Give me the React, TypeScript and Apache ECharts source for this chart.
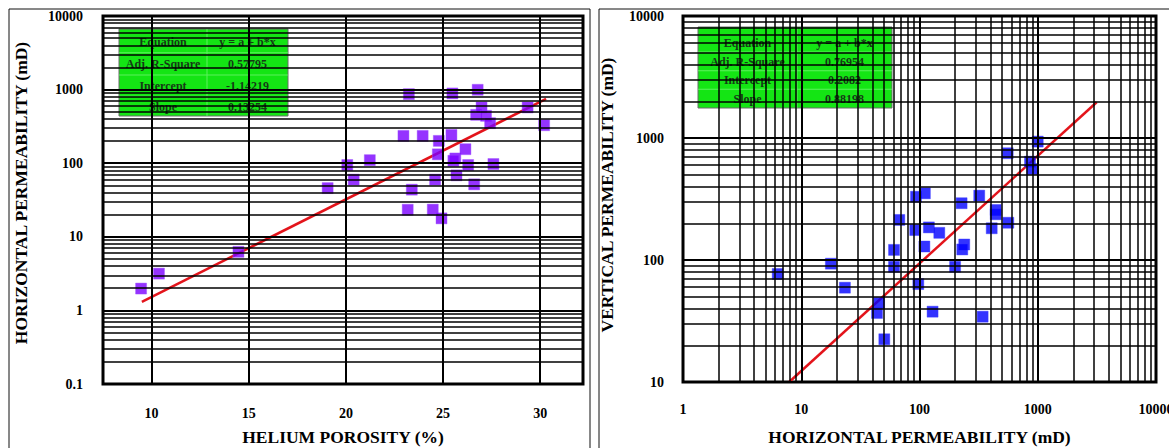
import React, { useEffect, useRef } from "react";
import * as echarts from "echarts";

// ---------- Data ----------
// Left chart: Helium porosity (%) vs horizontal permeability (mD)
const porosity = [9.46, 10.38, 14.47, 19.06, 20.07, 20.4, 21.23, 22.96, 23.24, 23.18, 23.39, 23.95, 24.47, 24.59, 24.73, 24.78, 24.92, 25.43, 25.48, 25.63, 25.53, 25.69, 26.15, 26.29, 26.6, 26.7, 26.78, 26.98, 27.21, 27.42, 27.59, 29.35, 30.2];
const horizPermA = [1.98, 3.16, 6.25, 45.9, 94.5, 59.8, 110, 235, 868, 23.3, 43.7, 235, 23.4, 59.8, 132, 201, 17.8, 242, 887, 116, 108, 68.4, 155, 94.5, 51.6, 454, 994, 572, 440, 350, 97.5, 572, 328];
const fitPorosity = [9.5, 30.3];
const fitHorizA = [1.31, 748];

// Right chart: horizontal permeability (mD) vs vertical permeability (mD)
const horizPermB = [6.32, 17.8, 23.4, 557, 1000, 860, 899, 93.4, 111, 227, 320, 67.5, 441, 441, 92, 120, 147, 408, 564, 60.9, 110, 239, 230, 60.9, 200, 97.7, 129, 342, 50.4, 45.5, 43.7];
const vertPerm = [76.8, 93.3, 59.3, 750, 934, 640, 557, 330, 352, 292, 337, 213, 257, 237, 176, 185, 167, 182, 202, 121, 129, 134, 122, 88, 88, 63.5, 37.7, 34.3, 22.4, 44.4, 36.8];
const fitHorizB = [7.9, 3150];
const fitVert = [10, 1963];

// Tables
const tableLabels = ["Equation", "Adj. R-Square", "Intercept", "Slope"];
const tableValuesA = ["y = a + b*x", "0.57795", "-1.14219", "0.13254"];
const tableValuesB = ["y = a + b*x", "0.76954", "0.2082", "0.88198"];

// Axis tick values and titles
const porosityTicks = [10, 15, 20, 25, 30];
const titleLeftX = "HELIUM POROSITY (%)";
const titleLeftY = "HORIZONTAL PERMEABILITY (mD)";
const titleRightX = "HORIZONTAL PERMEABILITY (mD)";
const titleRightY = "VERTICAL PERMEABILITY (mD)";

// ---------- Helpers ----------
const FONT = "'Liberation Serif', 'Times New Roman', serif";

function logGridValues(eLo: number, eHi: number) {
  const major: number[] = [];
  const minor: number[] = [];
  for (let e = eLo; e <= eHi; e++) {
    const d = Math.pow(10, e);
    major.push(d);
    if (e < eHi) {
      for (let k = 2; k <= 9; k++) minor.push(Number((d * k).toPrecision(4)));
    }
  }
  return { major, minor };
}

function fmtLog(v: number) {
  return String(Number(v.toPrecision(6)));
}

function gridLineSeries(xi: number, xMajor: number[], xMinor: number[], yMajor: number[], yMinor: number[]) {
  const items: any[] = [];
  xMajor.forEach((v) => items.push({ xAxis: v, lineStyle: { color: "#000", width: 2, type: "solid" } }));
  xMinor.forEach((v) => items.push({ xAxis: v, lineStyle: { color: "#000", width: 1.5, type: "solid" } }));
  yMajor.forEach((v) => items.push({ yAxis: v, lineStyle: { color: "#000", width: 2, type: "solid" } }));
  yMinor.forEach((v) => items.push({ yAxis: v, lineStyle: { color: "#000", width: 1.5, type: "solid" } }));
  return {
    type: "line",
    xAxisIndex: xi,
    yAxisIndex: xi,
    data: [],
    z: 1,
    silent: true,
    markLine: {
      silent: true,
      symbol: ["none", "none"],
      label: { show: false },
      emphasis: { disabled: true },
      data: items,
    },
  };
}

function tableGraphic(x: number, y: number, w: number, h: number, colX: number, rowYs: number[], values: string[]) {
  const textStyle = { fill: "#163a16", fontSize: 12, fontWeight: "bold", fontFamily: FONT, align: "center", verticalAlign: "middle" };
  const children: any[] = [
    {
      type: "rect",
      shape: { x: 0, y: 0, width: w, height: h },
      style: { fill: "#14e514", stroke: "#6a6a6a", lineWidth: 1 },
    },
    {
      type: "line",
      shape: { x1: colX, y1: 0, x2: colX, y2: h },
      style: { stroke: "#5cf05c", lineWidth: 1 },
    },
  ];
  for (let i = 1; i < rowYs.length; i++) {
    const ly = (rowYs[i - 1] + rowYs[i]) / 2;
    children.push({
      type: "line",
      shape: { x1: 0, y1: ly, x2: w, y2: ly },
      style: { stroke: "#5cf05c", lineWidth: 1 },
    });
  }
  tableLabels.forEach((lab, i) => {
    children.push({ type: "text", x: colX / 2, y: rowYs[i], style: { ...textStyle, text: lab } });
    children.push({ type: "text", x: (colX + w) / 2, y: rowYs[i], style: { ...textStyle, text: values[i] } });
  });
  return { type: "group", x, y, z: 50, children };
}

export default function App() {
  const ref = useRef<HTMLDivElement>(null);

  useEffect(() => {
    if (!ref.current) return;
    const chart = echarts.init(ref.current, undefined, { renderer: "svg" });

    const leftY = logGridValues(-1, 4);
    const rightX = logGridValues(0, 4);
    const rightY = logGridValues(1, 4);

    const labelStyle = { color: "#000", fontFamily: FONT, fontWeight: "bold" as const, fontSize: 14 };
    const nameStyle = { color: "#000", fontFamily: FONT, fontWeight: "bold" as const, fontSize: 17.5 };
    const titleStyle = { fill: "#000", fontFamily: FONT, fontWeight: "bold", fontSize: 17.5, align: "center", verticalAlign: "middle" };

    const option: any = {
      animation: false,
      backgroundColor: "#fff",
      grid: [
        { left: 103, top: 16, width: 480, height: 368, show: true, borderColor: "#000", borderWidth: 3, backgroundColor: "#fff", containLabel: false, outerBoundsMode: "none" },
        { left: 683, top: 16, width: 473, height: 366, show: true, borderColor: "#000", borderWidth: 3, backgroundColor: "#fff", containLabel: false, outerBoundsMode: "none" },
      ],
      xAxis: [
        {
          type: "value",
          gridIndex: 0,
          min: 7.5,
          max: 32.2,
          interval: 2.5,
          axisLine: { show: false },
          axisTick: { show: false },
          splitLine: { show: false },
          axisLabel: { ...labelStyle, margin: 22, formatter: (v: number) => (porosityTicks.includes(v) ? String(v) : "") },
          name: titleLeftX,
          nameLocation: "middle",
          nameGap: 44,
          nameTextStyle: nameStyle,
        },
        {
          type: "log",
          logBase: 10,
          gridIndex: 1,
          min: 1,
          max: 10000,
          axisLine: { show: false },
          axisTick: { show: false },
          splitLine: { show: false },
          axisLabel: { ...labelStyle, margin: 20, formatter: fmtLog },
          name: titleRightX,
          nameLocation: "middle",
          nameGap: 46,
          nameTextStyle: nameStyle,
        },
      ],
      yAxis: [
        {
          type: "log",
          logBase: 10,
          gridIndex: 0,
          min: 0.1,
          max: 10000,
          axisLine: { show: false },
          axisTick: { show: false },
          splitLine: { show: false },
          axisLabel: { ...labelStyle, margin: 20, formatter: fmtLog },
        },
        {
          type: "log",
          logBase: 10,
          gridIndex: 1,
          min: 10,
          max: 10000,
          axisLine: { show: false },
          axisTick: { show: false },
          splitLine: { show: false },
          axisLabel: { ...labelStyle, margin: 19, formatter: fmtLog },
        },
      ],
      series: [
        gridLineSeries(0, porosityTicks, [], leftY.major, leftY.minor),
        gridLineSeries(1, rightX.major, rightX.minor, rightY.major, rightY.minor),
        {
          type: "line",
          xAxisIndex: 0,
          yAxisIndex: 0,
          data: fitPorosity.map((x, i) => [x, fitHorizA[i]]),
          symbol: "none",
          lineStyle: { color: "#e3141b", width: 2.5 },
          z: 3,
          silent: true,
        },
        {
          type: "line",
          xAxisIndex: 1,
          yAxisIndex: 1,
          data: fitHorizB.map((x, i) => [x, fitVert[i]]),
          symbol: "none",
          lineStyle: { color: "#e3141b", width: 2.5 },
          z: 3,
          silent: true,
        },
        {
          type: "scatter",
          xAxisIndex: 0,
          yAxisIndex: 0,
          data: porosity.map((x, i) => [x, horizPermA[i]]),
          symbol: "rect",
          symbolSize: 11,
          itemStyle: { color: "#7b00ff", borderColor: "#9a4dff", borderWidth: 0.5 },
          z: 4,
        },
        {
          type: "scatter",
          xAxisIndex: 1,
          yAxisIndex: 1,
          data: horizPermB.map((x, i) => [x, vertPerm[i]]),
          symbol: "rect",
          symbolSize: 11,
          itemStyle: { color: "#0000ff", borderColor: "#3a3aff", borderWidth: 0.5 },
          z: 4,
        },
      ],
      graphic: [
        { type: "rect", z: -10, shape: { x: 9, y: 9, width: 581, height: 460 }, style: { fill: "none", stroke: "#111", lineWidth: 1 } },
        { type: "rect", z: -10, shape: { x: 599, y: 9, width: 600, height: 460 }, style: { fill: "none", stroke: "#111", lineWidth: 1 } },
        { type: "text", x: 21, y: 193, rotation: Math.PI / 2, z: 40, style: { ...titleStyle, text: titleLeftY } },
        { type: "text", x: 607, y: 195, rotation: Math.PI / 2, z: 40, style: { ...titleStyle, text: titleRightY } },
        tableGraphic(119, 29, 169, 87, 88, [12.5, 35, 57, 77.5], tableValuesA),
        tableGraphic(698, 27, 194, 81, 99, [15.5, 34.5, 53, 71.5], tableValuesB),
      ],
    };

    chart.setOption(option);
    return () => {
      chart.dispose();
    };
  }, []);

  return (
    <div
      ref={ref}
      style={{ position: "absolute", left: 0, top: 0, width: 1169, height: 448, background: "#fff" }}
    />
  );
}
